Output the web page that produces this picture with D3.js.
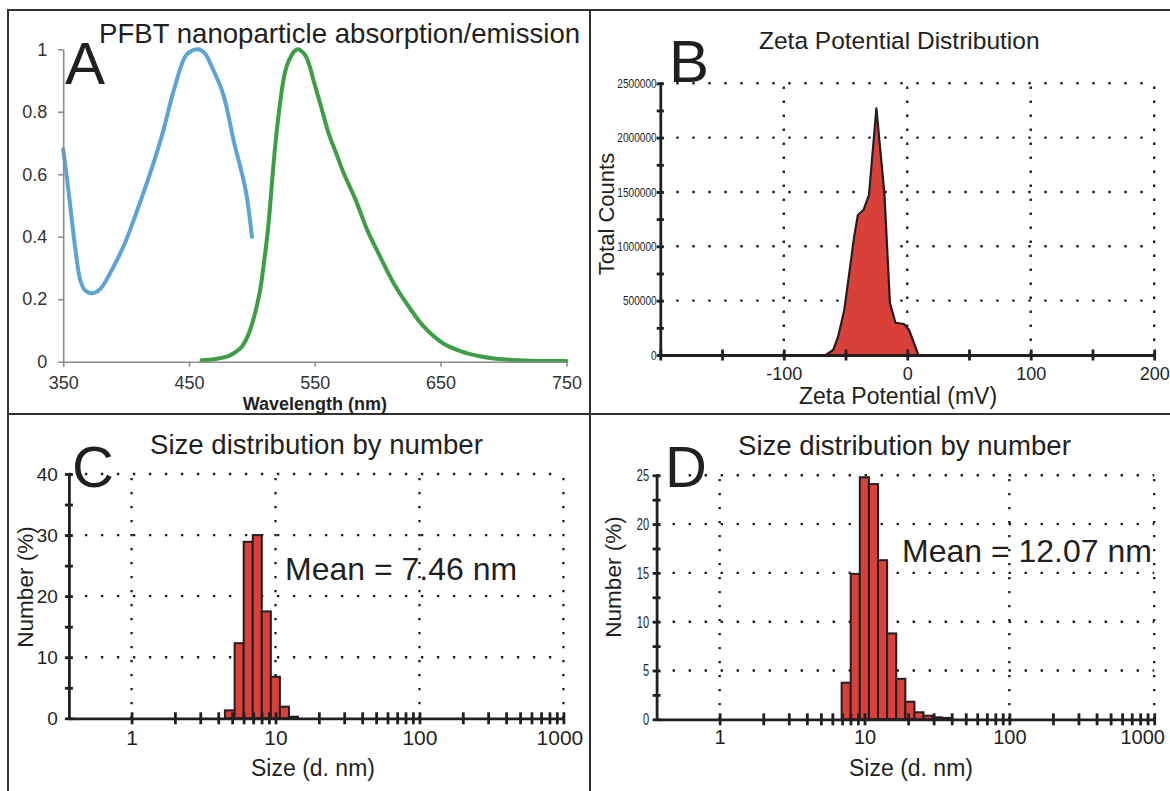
<!DOCTYPE html>
<html>
<head>
<meta charset="utf-8">
<script src="https://cdn.jsdelivr.net/npm/d3@7"></script>
<style>
  body { margin: 0; background: #fff; }
  svg { display: block; font-family: "Liberation Sans", Arial, Helvetica, sans-serif; }
</style>
</head>
<body>
<svg id="fig" width="1170" height="791"></svg>
<script>
// ---- Panel A: absorption / emission spectra ----
const absWavelength = [350, 352, 355, 360, 364, 368, 372.6, 377, 381, 390, 399, 408, 420, 429, 438, 447, 452, 457.5, 463, 468, 477, 486, 495, 500]
const absValue      = [0.68, 0.62, 0.52, 0.35, 0.255, 0.226, 0.219, 0.225, 0.24, 0.304, 0.379, 0.475, 0.614, 0.731, 0.87, 0.977, 0.995, 1.0, 0.985, 0.945, 0.859, 0.699, 0.55, 0.40]
const emWavelength  = [460, 470, 480, 486, 492, 497, 501, 504, 507, 510, 513, 516, 519, 522, 525, 528, 531, 534, 537, 540, 543, 546, 549, 555, 561, 567, 573, 582.5, 591.6, 600.6, 612.7, 624.7, 636.7, 651.8, 666.9, 680, 691, 705, 721, 735, 750]
const emValue       = [0.005, 0.008, 0.016, 0.028, 0.048, 0.085, 0.133, 0.18, 0.24, 0.33, 0.432, 0.575, 0.71, 0.815, 0.9, 0.95, 0.977, 0.995, 1.0, 0.992, 0.977, 0.945, 0.9, 0.816, 0.731, 0.667, 0.603, 0.518, 0.422, 0.347, 0.251, 0.176, 0.112, 0.059, 0.032, 0.018, 0.011, 0.006, 0.003, 0.002, 0.002]
const specTicksX = [350, 450, 550, 650, 750]
const specTicksY = [0, 0.2, 0.4, 0.6, 0.8, 1]

// ---- Panel B: zeta potential distribution ----
const zetaMv     = [-66, -60, -56, -51, -47, -43, -40, -35.5, -31, -25, -18.5, -14, -9.5, -2.7, 1.5, 9]
const zetaCounts = [0, 46000, 169000, 414000, 751000, 1089000, 1288000, 1334000, 1472000, 2270000, 1487000, 475000, 297000, 285000, 230000, 0]
const zetaTicksX  = [-200, -150, -100, -50, 0, 50, 100, 150, 200]
const zetaLabelsX = [-100, 0, 100, 200]
const zetaTicksY  = [0, 250000, 500000, 750000, 1000000, 1250000, 1500000, 1750000, 2000000, 2250000, 2500000]
const zetaLabelsY = [0, 500000, 1000000, 1500000, 2000000, 2500000]

// ---- Panels C and D: size distribution by number ----
const sizeEdgesC = [4.45, 5.2, 6.01, 6.95, 8.03, 9.28, 10.73, 12.4, 14.33]
const numberC    = [1.3, 12.3, 28.9, 30.0, 17.5, 6.8, 1.9, 0.26]
const sizeEdgesD = [6.95, 8.03, 9.28, 10.73, 12.4, 14.33, 16.56, 19.14, 22.12, 25.56, 29.54, 34.14, 39.46]
const numberD    = [3.75, 14.9, 24.8, 24.1, 16.3, 8.8, 4.15, 1.8, 0.72, 0.37, 0.2, 0.14]
const sizeTicks  = [1, 2, 3, 4, 5, 6, 7, 8, 9, 10, 20, 30, 40, 50, 60, 70, 80, 90, 100, 200, 300, 400, 500, 600, 700, 800, 900, 1000]
const sizeLabels = [1, 10, 100, 1000]
const numberTicksC  = [0, 5, 10, 15, 20, 25, 30, 35, 40]
const numberLabelsC = [0, 10, 20, 30, 40]
const numberTicksD  = [0, 2.5, 5, 7.5, 10, 12.5, 15, 17.5, 20, 22.5, 25]
const numberLabelsD = [0, 5, 10, 15, 20, 25]

const INK = "#231f20"
const RED = "#d9403a"
const svg = d3.select("#fig")

// frame + panel dividers
svg.append("path")
    .attr("d", "M8,791 V10 H1170 M590,10 V791 M8,414 H1170")
    .attr("fill", "none")
    .attr("stroke", "#333")
    .attr("stroke-width", 2)

// make ticks cross the axis line instead of hanging off one side
function crossTicks(g, dir, half) {
  if (dir === "x") g.selectAll(".tick line").attr("y1", -half).attr("y2", half)
  else g.selectAll(".tick line").attr("x1", -half).attr("x2", half)
}

// squeeze tick labels horizontally, the source uses a narrow face there
function condense(g, factor) {
  g.selectAll(".tick text").each(function () {
    const w = this.getComputedTextLength()
    if (w > 0) d3.select(this).attr("textLength", w * factor).attr("lengthAdjust", "spacingAndGlyphs")
  })
}

function dottedGrid(g, x, y, xs, ys) {
  const [x0, x1] = x.range()
  const [y0, y1] = y.range()
  g.selectAll(null).data(ys).join("line")
      .attr("x1", x0).attr("x2", x1)
      .attr("y1", d => y(d)).attr("y2", d => y(d))
      .attr("stroke", INK).attr("stroke-width", 2.4)
      .attr("stroke-dasharray", "2.4,13.6")
  g.selectAll(null).data(xs).join("line")
      .attr("x1", d => x(d)).attr("x2", d => x(d))
      .attr("y1", y0).attr("y2", y1)
      .attr("stroke", INK).attr("stroke-width", 2.4)
      .attr("stroke-dasharray", "2.4,11.6")
}

function label(text, x, y, size, opts = {}) {
  const t = svg.append("text")
      .attr("x", x).attr("y", y)
      .attr("font-size", size)
      .attr("fill", INK)
      .text(text)
  if (opts.anchor) t.attr("text-anchor", opts.anchor)
  if (opts.weight) t.attr("font-weight", opts.weight)
  if (opts.rotate) t.attr("transform", `rotate(-90,${x},${y})`)
  return t
}

// ================= Panel A =================
{
  const x = d3.scaleLinear().domain([350, 750]).range([63.2, 566.4])
  const y = d3.scaleLinear().domain([0, 1]).range([361.7, 49.3])
  const g = svg.append("g")

  const line = d3.line().curve(d3.curveCatmullRom)
  g.append("path")
      .attr("d", line(absWavelength.map((w, i) => [x(w), y(absValue[i])])))
      .attr("fill", "none").attr("stroke", "#5ba4d4").attr("stroke-width", 4)
      .attr("stroke-linecap", "round")
  g.append("path")
      .attr("d", line(emWavelength.map((w, i) => [x(w), y(emValue[i])])))
      .attr("fill", "none").attr("stroke", "#3c9e46").attr("stroke-width", 4)
      .attr("stroke-linecap", "round")

  const xa = g.append("g")
      .attr("transform", `translate(0,${y(0)})`)
      .call(d3.axisBottom(x).tickValues(specTicksX).tickSizeInner(5).tickSizeOuter(0).tickPadding(10).tickFormat(d3.format("d")))
  const ya = g.append("g")
      .attr("transform", `translate(${x(350)},0)`)
      .call(d3.axisLeft(y).tickValues(specTicksY).tickSizeInner(5).tickSizeOuter(0).tickPadding(11).tickFormat(d => d))
  for (const a of [xa, ya]) {
    a.select(".domain").attr("stroke", "#8c8c8c").attr("stroke-width", 1.6)
    a.selectAll(".tick line").attr("stroke", "#8c8c8c").attr("stroke-width", 1.6)
    a.selectAll(".tick text").attr("font-size", 18).attr("fill", "#333").attr("font-family", null)
  }

  label("Wavelength (nm)", x(550), 410, 18, { anchor: "middle", weight: "bold" })
  label("PFBT nanoparticle absorption/emission", 99, 43, 27.6)
  label("A", 65, 84, 60)
}

// ================= Panel B =================
{
  const x = d3.scaleLinear().domain([-200, 200]).range([660.3, 1154.2])
  const y = d3.scaleLinear().domain([0, 2500000]).range([355, 83.3])
  const g = svg.append("g")

  dottedGrid(g, x, y, zetaLabelsX, zetaLabelsY.slice(1))

  const area = d3.area()
      .x((d, i) => x(zetaMv[i]))
      .y0(y(0))
      .y1((d, i) => y(zetaCounts[i]))
  g.append("path")
      .attr("d", area(zetaCounts))
      .attr("fill", RED).attr("stroke", INK).attr("stroke-width", 2.2)
      .attr("stroke-linejoin", "round")

  const xa = g.append("g")
      .attr("transform", `translate(0,${y(0)})`)
      .call(d3.axisBottom(x).tickValues(zetaTicksX).tickSizeInner(5.5).tickSizeOuter(0).tickPadding(7)
        .tickFormat(d => zetaLabelsX.includes(d) ? d : ""))
  crossTicks(xa, "x", 5.5)
  xa.selectAll(".tick text").attr("font-size", 18)
  const ya = g.append("g")
      .attr("transform", `translate(${x(-200)},0)`)
      .call(d3.axisLeft(y).tickValues(zetaTicksY).tickSizeInner(3.6).tickSizeOuter(0).tickPadding(0)
        .tickFormat(d => zetaLabelsY.includes(d) ? d : ""))
  crossTicks(ya, "y", 3.6)
  ya.selectAll(".tick text").attr("font-size", 13.5)
  condense(ya, 0.75)
  for (const a of [xa, ya]) {
    a.selectAll(".domain, .tick line").attr("stroke", INK).attr("stroke-width", 2.8)
    a.selectAll(".tick text").attr("fill", INK).attr("font-family", null)
  }

  label("Zeta Potential (mV)", 898, 404, 23, { anchor: "middle" })
  label("Total Counts", 614, 214, 22, { anchor: "middle", rotate: true })
  label("Zeta Potential Distribution", 759, 49, 24.5)
  label("B", 669, 82, 60)
}

// ================= Panels C and D =================
function sizePanel(opts) {
  const x = d3.scaleLog().domain([0.367, 1000]).range(opts.xRange)
  const y = d3.scaleLinear().domain([0, opts.yMax]).range(opts.yRange)
  const g = svg.append("g")

  dottedGrid(g, x, y, sizeLabels, opts.yLabels.slice(1))

  g.selectAll(null).data(opts.values).join("rect")
      .attr("x", (d, i) => x(opts.edges[i]))
      .attr("width", (d, i) => x(opts.edges[i + 1]) - x(opts.edges[i]))
      .attr("y", d => y(d))
      .attr("height", d => y(0) - y(d))
      .attr("fill", RED).attr("stroke", INK).attr("stroke-width", 2)

  const xa = g.append("g")
      .attr("transform", `translate(0,${y(0)})`)
      .call(d3.axisBottom(x).tickValues(sizeTicks).tickSizeInner(6).tickSizeOuter(0).tickPadding(opts.xPad)
        .tickFormat(d => sizeLabels.includes(d) ? d : ""))
  crossTicks(xa, "x", 6)
  xa.selectAll(".tick text").attr("font-size", opts.xFont)
  // last label sits a little left of its tick in the source, keeps it inside the frame
  xa.selectAll(".tick text").filter(d => d === 1000).attr("dx", opts.lastShift)
  const ya = g.append("g")
      .attr("transform", `translate(${opts.xRange[0]},0)`)
      .call(d3.axisLeft(y).tickValues(opts.yTicks).tickSizeInner(4).tickSizeOuter(0).tickPadding(opts.yPad)
        .tickFormat(d => opts.yLabels.includes(d) ? d : ""))
  crossTicks(ya, "y", 4)
  ya.selectAll(".tick text").attr("font-size", opts.yFont)
  if (opts.yCondense) condense(ya, opts.yCondense)
  for (const a of [xa, ya]) {
    a.selectAll(".domain, .tick line").attr("stroke", INK).attr("stroke-width", 2.8)
    a.selectAll(".tick text").attr("fill", INK).attr("font-family", null)
  }

  label("Size (d. nm)", opts.xTitle[0], opts.xTitle[1], 23, { anchor: "middle" })
  label("Number (%)", opts.yTitle[0], opts.yTitle[1], 22.5, { anchor: "middle", rotate: true })
  label("Size distribution by number", opts.title[0], opts.title[1], 27.6)
  label(opts.mean, opts.meanPos[0], opts.meanPos[1], opts.meanSize)
  label(opts.letter, opts.letterPos[0], opts.letterPos[1], 58)
}

sizePanel({
  edges: sizeEdgesC, values: numberC, yMax: 40,
  yTicks: numberTicksC, yLabels: numberLabelsC,
  xRange: [68.9, 563.4], yRange: [718.3, 474],
  xPad: 6, yPad: 7, xFont: 21, yFont: 19, lastShift: -4,
  xTitle: [313, 776], yTitle: [33, 587],
  title: [150, 454], mean: "Mean = 7.46 nm", meanPos: [285, 580], meanSize: 32,
  letter: "C", letterPos: [72, 487]
})

sizePanel({
  edges: sizeEdgesD, values: numberD, yMax: 25,
  yTicks: numberTicksD, yLabels: numberLabelsD,
  xRange: [656.6, 1154.2], yRange: [719.3, 475.3],
  xPad: 5, yPad: 3.5, xFont: 20, yFont: 17, yCondense: 0.65, lastShift: -12,
  xTitle: [911, 776], yTitle: [621, 577],
  title: [738, 455], mean: "Mean = 12.07 nm", meanPos: [902, 562], meanSize: 32,
  letter: "D", letterPos: [665, 487]
})
</script>
</body>
</html>
